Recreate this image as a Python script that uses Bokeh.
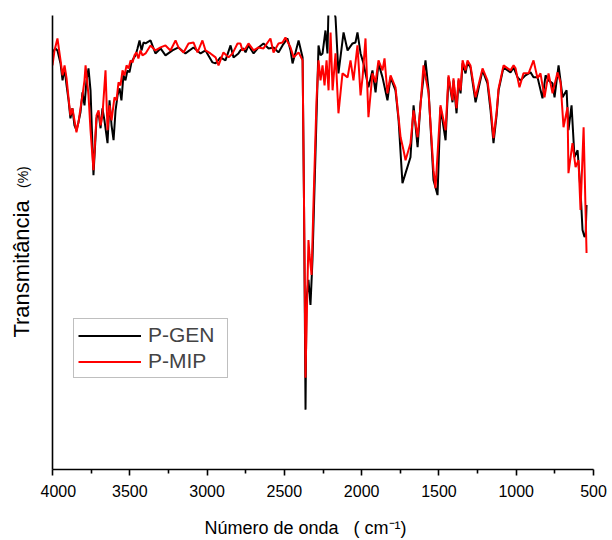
import math
from bokeh.plotting import figure
from bokeh.layouts import row
from bokeh.models import Range1d, Legend, LegendItem, Label, FixedTicker
from bokeh.embed import file_html
from bokeh.resources import INLINE

# P-GEN (black) : wavenumber (cm-1), transmittance (a.u.)
wn_gen = [4000, 3981, 3968, 3948, 3935, 3922, 3909, 3896, 3884, 3871, 3858, 3845, 3832, 3819, 3806, 3793,
          3780, 3767, 3754, 3735, 3715, 3702, 3689, 3677, 3664, 3644, 3631, 3618, 3605, 3592, 3579, 3566,
          3554, 3541, 3528, 3515, 3502, 3489, 3476, 3463, 3450, 3437, 3424, 3411,
          3398, 3366, 3334, 3301, 3269, 3224, 3185, 3140, 3088, 3042, 3010, 2965, 2945, 2913, 2881, 2848,
          2829, 2797, 2784, 2764, 2751, 2732, 2699, 2667, 2635, 2602, 2570, 2538, 2512, 2480, 2460, 2447,
          2428, 2408, 2382,
          2373, 2363, 2357, 2344, 2331, 2318, 2298, 2279,
          2266, 2253, 2234, 2221, 2214, 2195, 2182, 2169, 2150, 2117, 2091, 2059, 2040, 2027, 2007, 1988,
          1956, 1930, 1910, 1891, 1865, 1833, 1813, 1781, 1761, 1736, 1716, 1684, 1664, 1638, 1619, 1587,
          1567, 1535, 1509, 1490,
          1457, 1438, 1412, 1406, 1386, 1373, 1360, 1347, 1328, 1315, 1296, 1263, 1218, 1186, 1166, 1147,
          1127, 1114, 1082, 1037, 1017, 991,
          972, 940, 907, 888, 862, 830, 810, 791, 765, 752, 726, 700, 674, 662, 642, 623, 603, 584, 571,
          558, 551, 545]
t_gen = [418, 422, 420, 407, 390, 402, 385, 370, 352, 362, 345, 340, 348, 358, 378, 365,
         390, 402, 380, 295, 352, 358, 342, 362, 350, 327, 370, 345, 330, 360, 375, 382,
         370, 395, 390, 400, 398, 408, 412, 415, 422, 430, 420, 428,
         427, 430, 417, 422, 415, 420, 423, 417, 423, 417, 420, 408, 407, 413, 410, 425,
         413, 417, 420, 422, 418, 425, 417, 423, 427, 422, 423, 418, 425, 432, 420, 407,
         418, 430, 413,
         270, 60, 170, 190, 165, 210, 320, 425,
         415, 417, 440, 417, 465, 468, 462, 453, 397, 438, 420, 427, 428, 438, 417, 407,
         383, 400, 378, 407, 393, 370, 393, 380, 350, 287, 297, 313, 365, 323, 367, 410,
         380, 290, 275, 363,
         330, 393, 368, 390, 357, 390, 377, 407, 397, 408, 403, 368, 400, 387, 360, 327,
         355, 380, 403, 398, 403, 393,
         390, 395, 398, 393, 393, 372, 395, 390, 387, 373, 405, 373, 380, 340, 365, 313, 320, 280, 240,
         233, 235, 265]

# P-MIP (red)
wn_mip = [4000, 3987, 3968, 3948, 3935, 3922, 3909, 3896, 3884, 3871, 3858, 3845, 3832, 3819, 3806, 3793,
          3786, 3767, 3754, 3735, 3715, 3702, 3689, 3677, 3657, 3644, 3631, 3618, 3599, 3586, 3573, 3560,
          3547, 3534, 3521, 3508, 3495, 3482, 3470, 3457, 3444, 3431, 3418,
          3398, 3366, 3334, 3301, 3269, 3237, 3204, 3185, 3152, 3120, 3088, 3062, 3030, 3010, 2978, 2945,
          2926, 2894, 2861, 2835, 2803, 2784, 2771, 2751, 2732, 2699, 2667, 2635, 2590, 2570, 2538, 2512,
          2493, 2460, 2440, 2408, 2382,
          2373, 2363, 2357, 2344, 2337, 2324, 2311, 2292, 2279,
          2266, 2253, 2240, 2227, 2214, 2201, 2188, 2169, 2150, 2124, 2091, 2072, 2053, 2027, 2007, 1994,
          1975, 1956, 1930, 1910, 1891, 1865, 1852, 1833, 1813, 1781, 1748, 1729, 1716, 1684, 1664, 1638,
          1619, 1600, 1567, 1535, 1522, 1490,
          1457, 1438, 1412, 1406, 1386, 1373, 1360, 1347, 1328, 1315, 1296, 1263, 1218, 1186, 1166, 1147,
          1127, 1114, 1082, 1037, 1017, 1004,
          979, 953, 920, 888, 862, 843, 817, 791, 765, 733, 713, 694, 668, 662, 636, 616, 597, 584, 564,
          545]
t_mip = [405, 420, 432, 410, 395, 405, 392, 372, 355, 362, 350, 338, 348, 362, 375, 390,
         405, 375, 340, 300, 355, 360, 345, 355, 400, 340, 365, 350, 373, 370, 388, 385,
         400, 395, 405, 402, 410, 408, 415, 418, 412, 420, 415,
         417, 425, 420, 423, 425, 420, 430, 423, 418, 427, 428, 418, 430, 420, 417, 413,
         405, 418, 413, 417, 427, 427, 420, 422, 427, 420, 423, 422, 432, 418, 427, 428,
         433, 423, 413, 418, 410,
         270, 92, 140, 230, 215, 195, 270, 370, 410,
         390, 405, 385, 410, 380, 438, 380, 417, 357, 397, 393, 410, 390, 425, 375, 393,
         432, 353, 397, 388, 410, 400, 412, 377, 395, 383, 333, 320, 310, 327, 360, 333,
         365, 405, 377, 300, 282, 365,
         340, 395, 370, 392, 362, 392, 380, 410, 400, 410, 405, 373, 402, 390, 365, 332,
         358, 382, 405, 400, 405, 402,
         383, 397, 397, 410, 392, 397, 373, 397, 377, 398, 388, 343, 363, 297, 327, 303, 310, 260, 343,
         217]

x_ticks = [4000, 3500, 3000, 2500, 2000, 1500, 1000, 500]
x_minor = [3750, 3250, 2750, 2250, 1750, 1250, 750]
legend_labels = ["P-GEN", "P-MIP"]
x_title = "Número de onda\u00a0\u00a0\u00a0(\u00a0cm⁻¹)"
y_title = "Transmitância"
y_unit = "(%)"

FONT = "Liberation Sans"

# narrow panel on the left carrying the y title (two sizes)
lab = figure(width=40, height=540, output_backend="svg", toolbar_location=None,
             x_range=Range1d(0, 40), y_range=Range1d(0, 455),
             x_axis_location=None, y_axis_location=None,
             min_border_left=0, min_border_right=0, min_border_top=15, min_border_bottom=70)
lab.outline_line_color = None
lab.grid.visible = False
lab.add_layout(Label(x=20.5, y=201, text=y_title, text_font=FONT, text_font_size="22px",
                     angle=math.pi / 2, text_align="center", text_baseline="middle",
                     text_color="#000000"))
lab.add_layout(Label(x=22.5, y=293, text=y_unit, text_font=FONT, text_font_size="14px",
                     angle=math.pi / 2, text_align="center", text_baseline="middle",
                     text_color="#000000"))

p = figure(width=572, height=540, output_backend="svg", toolbar_location=None,
           x_range=Range1d(4000, 500), y_range=Range1d(0, 455),
           min_border_left=12, min_border_right=19, min_border_top=15, min_border_bottom=70)
p.outline_line_color = None
p.grid.visible = False

r_gen = p.line(wn_gen, t_gen, line_color="#000000", line_width=2)
r_mip = p.line(wn_mip, t_mip, line_color="#ff0000", line_width=2)

xa = p.xaxis[0]
xa.ticker = FixedTicker(ticks=x_ticks, minor_ticks=x_minor)
xa.axis_line_width = 1.6
xa.axis_line_color = "#000000"
xa.major_tick_line_width = 1.6
xa.minor_tick_line_width = 1.6
xa.major_tick_out = 6
xa.major_tick_in = 0
xa.minor_tick_out = 4
xa.minor_tick_in = 0
xa.major_label_text_font = FONT
xa.major_label_text_font_size = "16px"
xa.major_label_text_color = "#000000"
xa.major_label_standoff = 9
xa.axis_label = x_title + "\u00a0" * 7
xa.axis_label_text_font = FONT
xa.axis_label_text_font_size = "18px"
xa.axis_label_text_font_style = "normal"
xa.axis_label_text_color = "#000000"
xa.axis_label_standoff = 18

ya = p.yaxis[0]
ya.ticker = FixedTicker(ticks=[])
ya.axis_line_width = 1.6
ya.axis_line_color = "#000000"
ya.major_tick_line_color = None
ya.minor_tick_line_color = None
ya.major_tick_out = 0
ya.minor_tick_out = 0
ya.major_label_standoff = 0
ya.major_label_text_font_size = "0px"

legend = Legend(items=[LegendItem(label=legend_labels[0], renderers=[r_gen]),
                       LegendItem(label=legend_labels[1], renderers=[r_mip])],
                location=(21, 91), label_text_font=FONT, label_text_font_size="21px",
                glyph_width=63, glyph_height=23, label_height=23, label_width=75,
                label_standoff=7, padding=4, spacing=2, margin=0,
                border_line_color="#808080", border_line_width=1,
                background_fill_alpha=1.0)
p.add_layout(legend, "center")

layout = row(lab, p)
open("out.html", "w").write(file_html(layout, INLINE))
